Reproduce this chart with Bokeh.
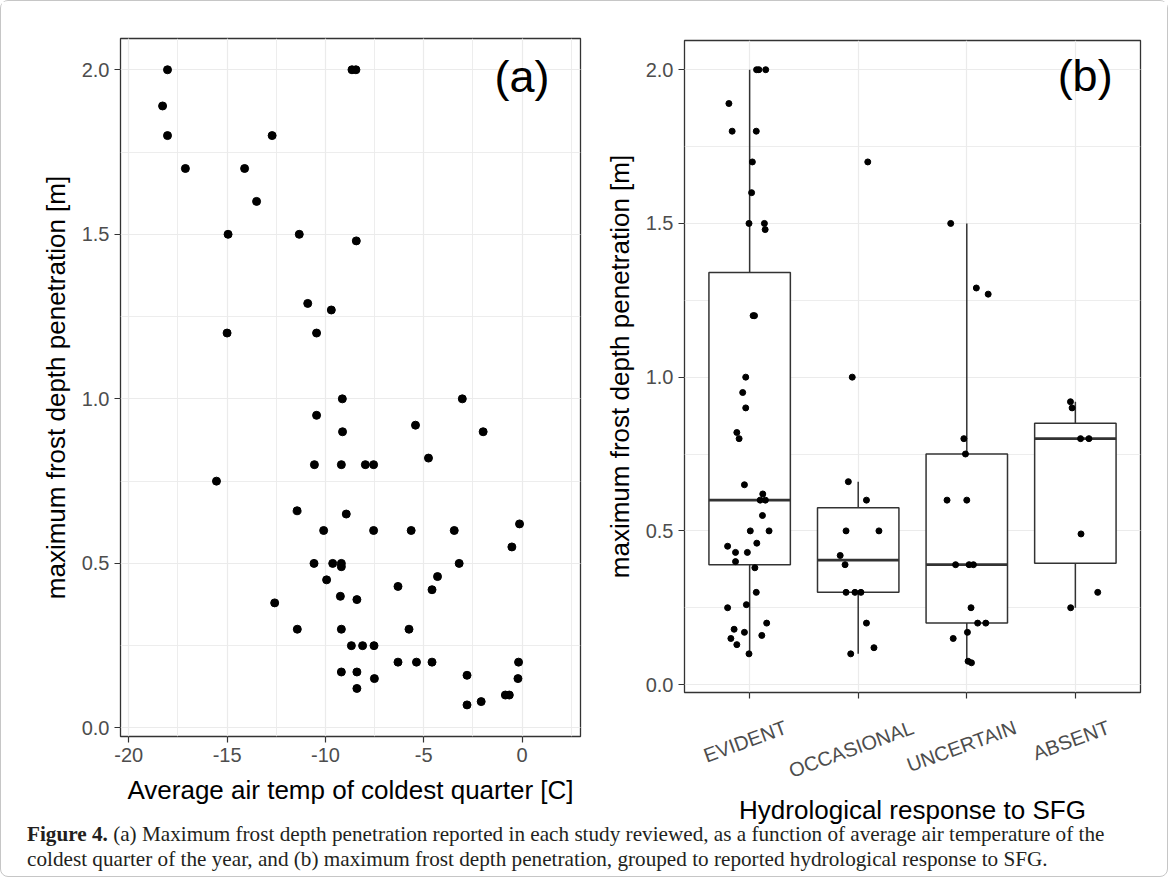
import math
from bokeh.plotting import figure
from bokeh.models import (ColumnDataSource, SingleIntervalTicker, FixedTicker,
                          PrintfTickFormatter, LinearAxis, Div, Range1d)
from bokeh.layouts import row, column
from bokeh.core.properties import value
from bokeh.embed import file_html
from bokeh.resources import INLINE

# ---------------- panel (a) data ----------------
temp_c = [-18.03, -18.28, -18.03, -17.12, -14.11, -13.50, -12.71, -14.95, -11.33,
          -8.65, -8.45, -8.43, -10.90, -9.70, -15.00, -10.45, -9.14, -3.04,
          -10.45, -9.13, -1.98, -5.42, -10.56, -9.19, -7.97, -7.55, -4.76,
          -15.54, -11.44, -8.94, -0.13, -10.09, -7.55, -5.64, -3.45, -0.52,
          -10.58, -9.63, -9.19, -9.19, -3.20, -4.30, -9.94, -6.31, -4.58,
          -9.24, -8.40, -12.58, -11.43, -9.19, -5.75, -8.68, -8.11, -7.53,
          -6.31, -5.37, -4.58, -0.18, -9.19, -8.40, -7.51, -8.40, -2.80,
          -0.21, -0.85, -0.65, -2.80, -2.08]
frost_a = [2.00, 1.89, 1.80, 1.70, 1.70, 1.60, 1.80, 1.50, 1.50,
           2.00, 2.00, 1.48, 1.29, 1.27, 1.20, 1.20, 1.00, 1.00,
           0.95, 0.90, 0.90, 0.92, 0.80, 0.80, 0.80, 0.80, 0.82,
           0.75, 0.66, 0.65, 0.62, 0.60, 0.60, 0.60, 0.60, 0.55,
           0.50, 0.50, 0.50, 0.49, 0.50, 0.46, 0.45, 0.43, 0.42,
           0.40, 0.39, 0.38, 0.30, 0.30, 0.30, 0.25, 0.25, 0.25,
           0.20, 0.20, 0.20, 0.20, 0.17, 0.17, 0.15, 0.12, 0.16,
           0.15, 0.10, 0.10, 0.07, 0.08]

# ---------------- panel (b) data ----------------
categories = ["EVIDENT", "OCCASIONAL", "UNCERTAIN", "ABSENT"]

evident_y = [2.00, 2.00, 2.00, 1.89, 1.80, 1.80, 1.70, 1.60, 1.50, 1.50, 1.48,
             1.20, 1.20, 1.00, 0.95, 0.90, 0.82, 0.80, 0.65, 0.62, 0.60, 0.60,
             0.55, 0.50, 0.50, 0.46, 0.45, 0.43, 0.43, 0.40, 0.38, 0.30, 0.26,
             0.25, 0.20, 0.18, 0.17, 0.16, 0.15, 0.13, 0.10]
evident_jit = [0.064, 0.085, 0.148, -0.191, -0.161, 0.061, 0.025, 0.018, -0.006,
               0.136, 0.143, 0.032, 0.045, -0.036, -0.064, -0.036, -0.118, -0.097,
               -0.048, 0.121, 0.097, 0.145, 0.118, 0.006, 0.179, 0.066, -0.203,
               -0.130, -0.021, -0.130, 0.048, 0.061, -0.030, -0.203, 0.157,
               -0.143, -0.048, 0.112, -0.173, -0.118, -0.006]

occasional_y = [1.70, 1.00, 0.66, 0.60, 0.50, 0.50, 0.42, 0.39, 0.30, 0.30,
                0.30, 0.20, 0.12, 0.10]
occasional_jit = [0.088, -0.055, -0.091, 0.076, -0.112, 0.191, -0.166, -0.121,
                  -0.112, -0.030, 0.025, 0.076, 0.145, -0.069]

uncertain_y = [1.50, 1.29, 1.27, 0.80, 0.75, 0.60, 0.60, 0.39, 0.39, 0.39, 0.25,
               0.20, 0.20, 0.17, 0.15, 0.076, 0.071]
uncertain_jit = [-0.148, 0.088, 0.197, -0.027, -0.012, -0.182, 0.0, -0.103, 0.021,
                 0.061, 0.039, 0.100, 0.175, 0.006, -0.125, 0.012, 0.043]

absent_y = [0.92, 0.90, 0.80, 0.80, 0.49, 0.30, 0.25]
absent_jit = [-0.045, -0.030, 0.048, 0.125, 0.052, 0.206, -0.043]

# box statistics (per category)
box_lo = [0.10, 0.10, 0.071, 0.25]
box_q1 = [0.39, 0.30, 0.20, 0.395]
box_med = [0.60, 0.405, 0.39, 0.80]
box_q3 = [1.34, 0.575, 0.75, 0.85]
box_hi = [2.00, 0.66, 1.50, 0.92]

caption_html = ("<b>Figure 4.</b> (a) Maximum frost depth penetration reported in each study "
                "reviewed, as a function of average air temperature of the<br>coldest quarter "
                "of the year, and (b) maximum frost depth penetration, grouped to reported "
                "hydrological response to SFG.")

# ---------------- styling ----------------
FONT = "Liberation Sans"
TICK_COLOR = "#333333"
LABEL_COLOR = "#4D4D4D"
GRID = "#EBEBEB"
TICK_PX = 20
TITLE_PX = 26


def style_axis(ax):
    ax.axis_line_color = None
    ax.major_tick_line_color = TICK_COLOR
    ax.major_tick_line_width = 1.2
    ax.major_tick_out = 6
    ax.major_tick_in = 0
    ax.minor_tick_line_color = None
    ax.major_label_text_font = FONT
    ax.major_label_text_font_size = f"{TICK_PX}px"
    ax.major_label_text_color = LABEL_COLOR
    ax.major_label_standoff = 5
    ax.axis_label_text_font = FONT
    ax.axis_label_text_font_size = f"{TITLE_PX}px"
    ax.axis_label_text_font_style = "normal"
    ax.axis_label_text_color = "black"


def style(p):
    p.background_fill_color = "white"
    p.border_fill_color = "white"
    p.outline_line_color = "#333333"
    p.outline_line_width = 1.3
    for ax in p.axis:
        style_axis(ax)
    p.grid.grid_line_color = GRID
    p.grid.grid_line_width = 1.2


H = 827

# ---------------- panel (a) ----------------
pa = figure(width=600, height=H, x_range=Range1d(-20.42, 2.97),
            y_range=Range1d(-0.026, 2.095), output_backend="svg",
            toolbar_location=None, min_border_left=119, min_border_right=21,
            min_border_top=37, min_border_bottom=H - 735, frame_align=False)
style(pa)
xt = SingleIntervalTicker(interval=5, num_minor_ticks=2)
yt = SingleIntervalTicker(interval=0.5, num_minor_ticks=2)
pa.xaxis.ticker = xt
pa.xgrid.ticker = xt
pa.yaxis.ticker = yt
pa.ygrid.ticker = yt
pa.xaxis.formatter = PrintfTickFormatter(format="%d")
pa.yaxis.formatter = PrintfTickFormatter(format="%.1f")
pa.xgrid.minor_grid_line_color = GRID
pa.ygrid.minor_grid_line_color = GRID
pa.xgrid.minor_grid_line_width = 0.9
pa.ygrid.minor_grid_line_width = 0.9
pa.xaxis.axis_label = "Average air temp of coldest quarter [C]"
pa.yaxis.axis_label = "maximum frost depth penetration [m]"
pa.xaxis.axis_label_standoff = 10
pa.yaxis.axis_label_standoff = 8

pa.scatter(temp_c, frost_a, size=8, color="black")
pa.text(x=[0], y=[1.98], text=["(a)"], text_font=value(FONT), text_font_size="45px",
        text_align="center", text_baseline="middle", text_color="black")

# ---------------- panel (b) ----------------
PB_W, PB_L, PB_R = 566, 77, 27
pb = figure(width=PB_W, height=H, x_range=Range1d(0.4, 4.6),
            y_range=Range1d(-0.0257, 2.095), output_backend="svg",
            toolbar_location=None, min_border_left=PB_L, min_border_right=PB_R,
            min_border_top=39, min_border_bottom=H - 691, frame_align=False)
cat_idx = list(range(1, len(categories) + 1))

# second "below" axis that carries the slanted category names
ANGLE = math.radians(20)
ARIAL_W = {"A": 667, "B": 667, "C": 722, "D": 722, "E": 667, "I": 278, "L": 556,
           "N": 722, "O": 778, "R": 722, "S": 667, "T": 611, "U": 722, "V": 667}
px_per_unit = (PB_W - PB_L - PB_R) / (4.6 - 0.4)
shifts = [0.9 * sum(ARIAL_W[c] for c in name) / 1000 * TICK_PX / 2 * math.cos(ANGLE) / px_per_unit
          for name in categories]
label_ticks = [round(i + s, 3) for i, s in zip(cat_idx, shifts)]
cat_axis = LinearAxis(ticker=FixedTicker(ticks=label_ticks, minor_ticks=[]),
                      major_label_overrides={t: n for t, n in zip(label_ticks, categories)})
pb.add_layout(cat_axis, "below")

style(pb)
xtb = FixedTicker(ticks=cat_idx, minor_ticks=[])
ytb = SingleIntervalTicker(interval=0.5, num_minor_ticks=2)
main_x = pb.xaxis[0]
main_x.ticker = xtb
pb.xgrid.ticker = xtb
pb.yaxis.ticker = ytb
pb.ygrid.ticker = ytb
pb.yaxis.formatter = PrintfTickFormatter(format="%.1f")
pb.xgrid.minor_grid_line_color = None
pb.ygrid.minor_grid_line_color = GRID
pb.ygrid.minor_grid_line_width = 0.9
main_x.major_label_overrides = {i: "" for i in cat_idx}
main_x.major_label_text_font_size = "0px"
main_x.major_label_standoff = 0

cat_axis.major_tick_line_color = None
cat_axis.major_tick_out = 0
cat_axis.major_label_orientation = ANGLE
cat_axis.major_label_standoff = 28
cat_axis.axis_label = "Hydrological response to SFG"
cat_axis.axis_label_standoff = 0
pb.yaxis.axis_label = "maximum frost depth penetration [m]"
pb.yaxis.axis_label_standoff = 8

BOX_W = 0.75
box_src = ColumnDataSource(dict(
    x=cat_idx, lo=box_lo, q1=box_q1, med=box_med, q3=box_q3, hi=box_hi,
    left=[i - BOX_W / 2 for i in cat_idx], right=[i + BOX_W / 2 for i in cat_idx]))
pb.segment(x0="x", y0="q3", x1="x", y1="hi", source=box_src, line_color="#333333", line_width=1.5)
pb.segment(x0="x", y0="q1", x1="x", y1="lo", source=box_src, line_color="#333333", line_width=1.5)
pb.vbar(x="x", width=BOX_W, bottom="q1", top="q3", source=box_src,
        fill_color="white", line_color="#333333", line_width=1.5)
pb.segment(x0="left", y0="med", x1="right", y1="med", source=box_src,
           line_color="#333333", line_width=2.8)

groups_y = [evident_y, occasional_y, uncertain_y, absent_y]
groups_j = [evident_jit, occasional_jit, uncertain_jit, absent_jit]
px, py = [], []
for i, (ys, js) in enumerate(zip(groups_y, groups_j)):
    for yv, jv in zip(ys, js):
        px.append(cat_idx[i] + jv)
        py.append(yv)
pb.scatter(px, py, size=6, color="black")

pb.text(x=[4.09], y=[1.98], text=["(b)"], text_font=value(FONT), text_font_size="45px",
        text_align="center", text_baseline="middle", text_color="black")

# ---------------- caption ----------------
cap = Div(text=('<div style="font-family: \'Liberation Serif\', serif; font-size: 21.2px; '
                'line-height: 25px; color: #231f20; padding-left: 26px; padding-top: 0px; '
                'white-space: nowrap;">'
                + caption_html + '</div>'),
          width=1166, height=54, margin=(-6, 0, 0, 0))

layout = column(row(pa, pb), cap,
                styles={"border": "1px solid #c6c6c6", "border-radius": "8px"})

open("out.html", "w").write(file_html(layout, INLINE))
